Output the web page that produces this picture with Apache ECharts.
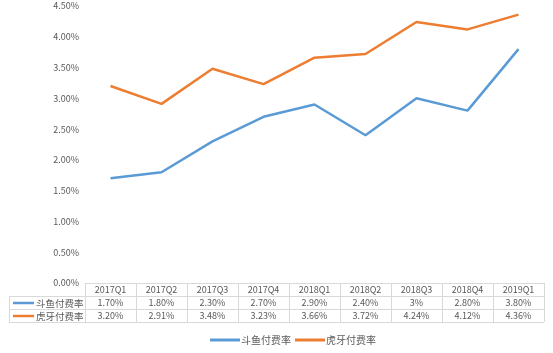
<!DOCTYPE html>
<html><head><meta charset="utf-8">
<script src="https://cdn.jsdelivr.net/npm/echarts@6/dist/echarts.min.js"></script>
<style>html,body{margin:0;padding:0;background:#fff}#c{width:553px;height:353px}</style>
</head><body><div id="c"></div>
<script>
const categories = ['2017Q1','2017Q2','2017Q3','2017Q4','2018Q1','2018Q2','2018Q3','2018Q4','2019Q1'];
const seriesNames = ['斗鱼付费率','虎牙付费率'];
const douyu = [1.70,1.80,2.30,2.70,2.90,2.40,3.00,2.80,3.80];
const huya = [3.20,2.91,3.48,3.23,3.66,3.72,4.24,4.12,4.36];
const douyuLabels = ['1.70%','1.80%','2.30%','2.70%','2.90%','2.40%','3%','2.80%','3.80%'];
const huyaLabels = ['3.20%','2.91%','3.48%','3.23%','3.66%','3.72%','4.24%','4.12%','4.36%'];
const yTicks = [0,0.5,1,1.5,2,2.5,3,3.5,4,4.5];

const colors = ['#5B9BD5','#ED7D31'];
const FONT = '"Noto Sans CJK SC", sans-serif';
const TXT = '#595959';
const LINE = '#D9D9D9';
const L = 85, R = 544, TOP = 6, AX = 283, ROW = 13, LEFTB = 9;

const chart = echarts.init(document.getElementById('c'));
const rowYs = [AX + ROW, AX + 2*ROW, AX + 3*ROW];
const graphics = [];
rowYs.forEach(y => graphics.push({type:'line', shape:{x1:LEFTB, y1:y+0.5, x2:R, y2:y+0.5}, style:{stroke:LINE, lineWidth:1}, silent:true}));
graphics.push({type:'line', shape:{x1:LEFTB+0.5, y1:AX+ROW, x2:LEFTB+0.5, y2:AX+3*ROW}, style:{stroke:LINE, lineWidth:1}});
seriesNames.forEach((n,i) => {
  const cy = AX + ROW*(i+1) + ROW/2 + 0.5;
  graphics.push({type:'line', shape:{x1:13, y1:cy, x2:34, y2:cy}, style:{stroke:colors[i], lineWidth:2.5}});
  graphics.push({type:'text', x:36, y:cy, style:{text:n, fill:TXT, fontSize:9.5, fontFamily:FONT, verticalAlign:'middle', textVerticalAlign:'middle'}});
});

chart.setOption({
  animation:false,
  textStyle:{fontFamily:FONT},
  grid:{left:L, right:553-R, top:TOP, bottom:353-AX, containLabel:false},
  legend:{bottom:3, left:205, itemWidth:30, itemHeight:3, itemGap:4, icon:'rect',
    textStyle:{fontSize:10, color:TXT, fontFamily:FONT, padding:[0,0,0,-4]},
    data:seriesNames},
  xAxis:{type:'category', data:categories, boundaryGap:true,
    axisLine:{lineStyle:{color:LINE, width:1}},
    axisTick:{show:true, length:3*ROW, lineStyle:{color:LINE}},
    axisLabel:{margin:0, interval:0, lineHeight:ROW, fontSize:9, color:TXT, fontFamily:FONT,
      formatter:(v, idx) => v + '\n' + douyuLabels[idx] + '\n' + huyaLabels[idx]}},
  yAxis:{type:'value', min:0, max:4.5, interval:0.5,
    axisLine:{show:false}, axisTick:{show:false}, splitLine:{show:false},
    axisLabel:{fontSize:9, color:TXT, margin:6, fontFamily:FONT, formatter:v => v.toFixed(2) + '%'}},
  series:[
    {name:seriesNames[0], type:'line', data:douyu, symbol:'none', lineStyle:{width:2.5, color:colors[0]}, itemStyle:{color:colors[0]}},
    {name:seriesNames[1], type:'line', data:huya, symbol:'none', lineStyle:{width:2.5, color:colors[1]}, itemStyle:{color:colors[1]}}
  ],
  graphic:graphics
});
</script></body></html>
